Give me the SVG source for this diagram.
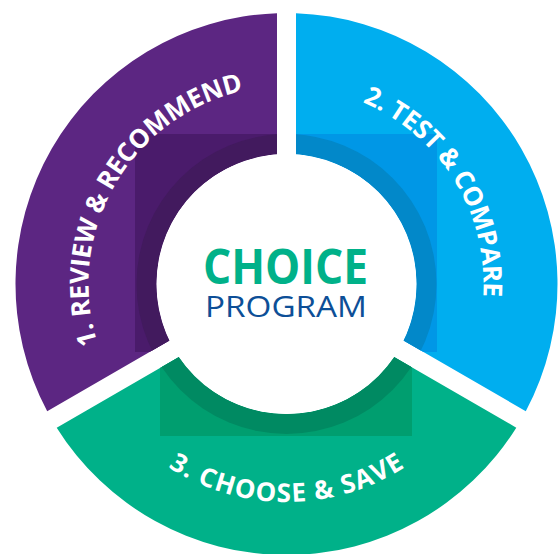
<svg xmlns="http://www.w3.org/2000/svg" xmlns:xlink="http://www.w3.org/1999/xlink" width="560" height="554" viewBox="0 0 560 554">
  <style>
    .label { font-family: "Open Sans", "Noto Sans", "Liberation Sans", sans-serif; font-weight: 700; font-size: 26px; fill: #ffffff; }
    .title { font-family: "Open Sans", "Noto Sans", "Liberation Sans", sans-serif; text-anchor: middle; }
  </style>
  <defs>
    <path id="seg1" d="M47.2,411.19 A271,271 0 0 1 277,13.17 L277,154.35 A130,130 0 0 0 169.47,340.6 Z"/>
    <path id="seg2" d="M296,13.17 A271,271 0 0 1 525.8,411.19 L403.53,340.6 A130,130 0 0 0 296,154.35 Z"/>
    <path id="seg3" d="M516.3,427.65 A271,271 0 0 1 56.7,427.65 L178.97,357.06 A130,130 0 0 0 394.03,357.06 Z"/>
    <clipPath id="clip1"><use xlink:href="#seg1"/></clipPath>
    <clipPath id="clip2"><use xlink:href="#seg2"/></clipPath>
    <clipPath id="clip3"><use xlink:href="#seg3"/></clipPath>
    <path id="arc1" d="M115,383 A198,198 0 0 1 286.5,86"/>
    <path id="arc2" d="M286.5,87 A197,197 0 0 1 457.1,382.5"/>
    <path id="arc3" d="M97.7,393 A218,218 0 0 0 475.3,393"/>
  </defs>

  <g id="step1-review">
    <use xlink:href="#seg1" fill="#5c2682"/>
    <g clip-path="url(#clip1)">
      <rect x="135" y="134" width="142" height="218" fill="#4a1b6b"/>
      <circle cx="286.5" cy="284" r="150" fill="#421a5e"/>
    </g>
    <text class="label"><textPath xlink:href="#arc1" startOffset="50%" text-anchor="middle" textLength="328">1. REVIEW &amp; RECOMMEND</textPath></text>
  </g>

  <g id="step2-test">
    <use xlink:href="#seg2" fill="#00aeef"/>
    <g clip-path="url(#clip2)">
      <rect x="296" y="134" width="141" height="218" fill="#0097e6"/>
      <circle cx="286.5" cy="284" r="150" fill="#0288c9"/>
    </g>
    <text class="label"><textPath xlink:href="#arc2" startOffset="48.5%" text-anchor="middle" textLength="244">2. TEST &amp; COMPARE</textPath></text>
  </g>

  <g id="step3-choose">
    <use xlink:href="#seg3" fill="#00b189"/>
    <g clip-path="url(#clip3)">
      <rect x="160" y="300" width="252" height="136" fill="#009e6f"/>
      <circle cx="286.5" cy="284" r="150" fill="#008a62"/>
    </g>
    <text class="label"><textPath xlink:href="#arc3" startOffset="50%" text-anchor="middle" textLength="250">3. CHOOSE &amp; SAVE</textPath></text>
  </g>

  <g id="center">
    <circle cx="286.5" cy="284" r="130" fill="#ffffff"/>
    <text class="title" x="285.5" y="284" font-size="48" font-weight="700" fill="#00b189" textLength="165" lengthAdjust="spacingAndGlyphs">CHOICE</text>
    <text class="title" x="286" y="317" font-size="29" font-weight="400" fill="#0d4f97" textLength="162" lengthAdjust="spacingAndGlyphs">PROGRAM</text>
  </g>
</svg>
